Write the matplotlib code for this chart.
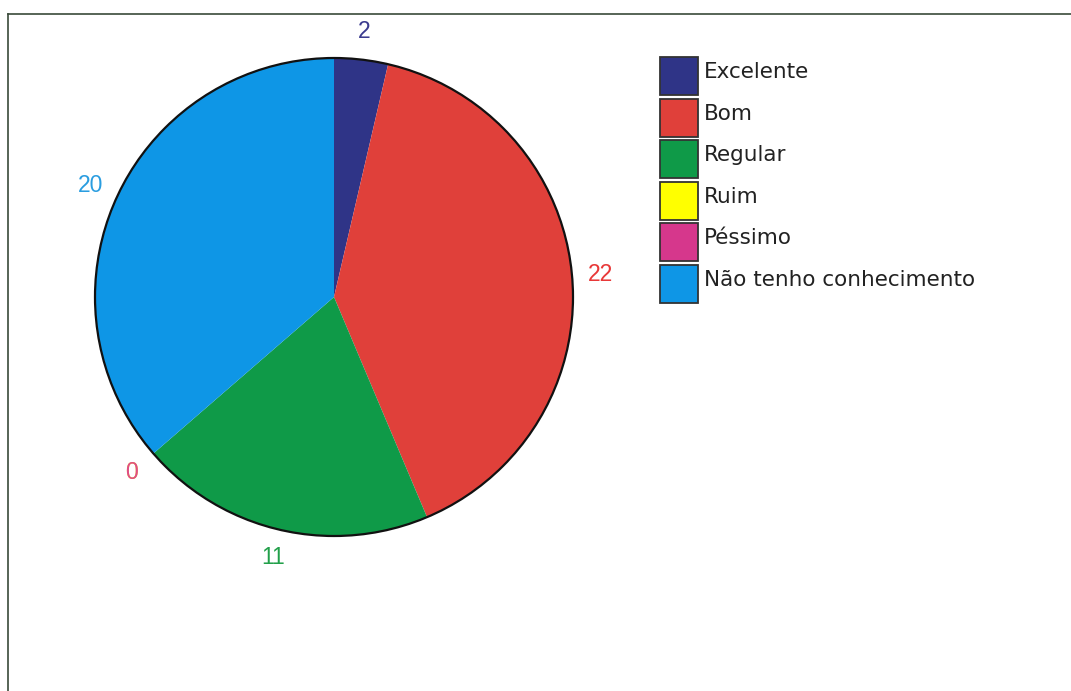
import matplotlib
matplotlib.use("Agg")
import matplotlib.pyplot as plt
import matplotlib.patches as mpatches
from matplotlib.lines import Line2D
from matplotlib.legend_handler import HandlerPatch

plt.rcParams['font.family'] = ['Liberation Sans', 'DejaVu Sans']

categories = ['Excelente', 'Bom', 'Regular', 'Ruim', 'Péssimo', 'Não tenho conhecimento']
values = [2, 22, 11, 0, 0, 20]
colors = ['#2f3487', '#e0403a', '#0f9a48', '#ffff00', '#d6378c', '#0e96e6']
label_colors = ['#3b3b8f', '#e83838', '#22a04a', '#e8e800', '#e04a8a', '#2a9de0']

W, H = 1071, 691
fig = plt.figure(figsize=(W / 100, H / 100), dpi=100)

# pie box in pixels
cx, cy, r = 334, 297, 239
ax = fig.add_axes([(cx - r) / W, 1 - (cy + r) / H, 2 * r / W, 2 * r / H])
wedges, texts = ax.pie(values, colors=colors, startangle=90, counterclock=False,
                       labels=[str(v) for v in values], labeldistance=1.12,
                       wedgeprops=dict(linewidth=0),
                       textprops=dict(fontsize=16.5))
for t, c in zip(texts, label_colors):
    t.set_color(c)
    t.set_ha('center')
    t.set_clip_on(False)
ring = mpatches.Circle((0, 0), 1, fill=False, edgecolor='#111111', lw=1.6)
ring.set_clip_on(False)
ax.add_patch(ring)
ax.set_xlim(-1, 1)
ax.set_ylim(-1, 1)


# taller square swatches, like the original legend boxes
def swatch(legend, orig_handle, xdescent, ydescent, width, height, fontsize):
    return mpatches.Rectangle((-xdescent, -0.79 * fontsize), width, 1.767 * fontsize)


handles = [mpatches.Patch(facecolor=c, edgecolor='#333333', lw=1.3) for c in colors]
leg_fs = 15.5
fig.legend(handles, categories, loc='upper left',
           bbox_to_anchor=(660 / W, 1 - 51 / H), frameon=False,
           prop=dict(family='DejaVu Sans', size=leg_fs),
           handlelength=1.77, handleheight=2.59, labelspacing=0,
           handletextpad=0.28, borderpad=0, borderaxespad=0,
           labelcolor='#222222',
           handler_map={mpatches.Patch: HandlerPatch(patch_func=swatch)})

# outer frame (top and left edges)
fig.add_artist(Line2D([8 / W, 1], [1 - 14 / H, 1 - 14 / H], color='#3a4a3a', lw=1.2))
fig.add_artist(Line2D([8 / W, 8 / W], [0, 1 - 14 / H], color='#3a4a3a', lw=1.2))

fig.savefig('out.png', dpi=100)
